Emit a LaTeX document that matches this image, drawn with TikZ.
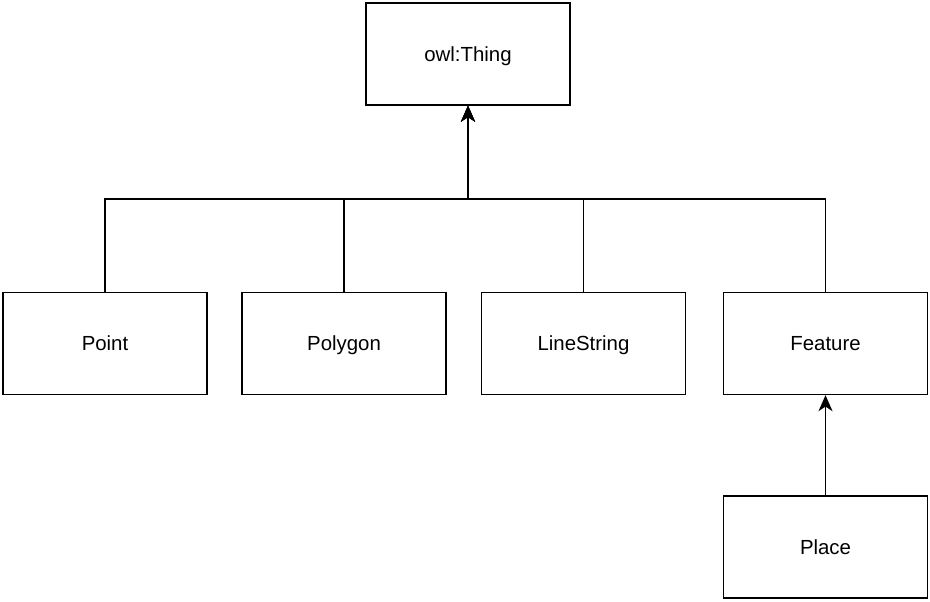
\documentclass[tikz,border=0pt]{standalone}
\usepackage{fontspec}
\setmainfont{Liberation Sans}
\usetikzlibrary{arrows.meta}

\begin{document}
\begin{tikzpicture}[x=0.75pt,y=-0.75pt,
  cls/.style={draw,line width=1pt,minimum width=153pt,minimum height=76.5pt,text height=11.5pt,text depth=0.5pt,font=\fontsize{15.3}{18}\selectfont},
  isa/.style={line width=1pt,-{Stealth[length=12pt,width=10.5pt,inset=3.5pt]}}]
\useasboundingbox (0,0) rectangle (930,601);
\node[cls] (thing) at (468,54) {owl:Thing};
\node[cls] (point) at (105,343.5) {Point};
\node[cls] (polygon) at (344,343.5) {Polygon};
\node[cls] (linestring) at (583.5,343.5) {LineString};
\node[cls] (feature) at (825.5,343.5) {Feature};
\node[cls] (place) at (825.5,547) {Place};
\coordinate (hub) at (468,199);
% subclass links
\foreach \c in {point,polygon,linestring,feature}
  \draw[isa] (\c.north) |- (hub) -- (thing.south);
\draw[isa] (place) -- (feature);
\end{tikzpicture}
\end{document}
